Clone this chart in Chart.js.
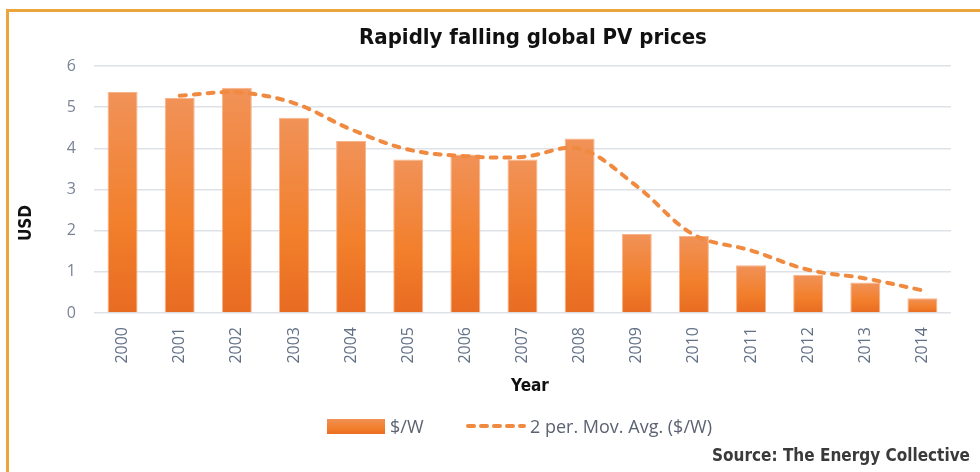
<!DOCTYPE html>
<html>
<head>
<meta charset="utf-8">
<script src="https://cdn.jsdelivr.net/npm/chart.js@4/dist/chart.umd.min.js"></script>
<style>
  html, body { margin: 0; padding: 0; background: #fff; }
  #wrap { position: relative; width: 980px; height: 472px; overflow: hidden; }
  #frame { position: absolute; left: 6px; top: 9px; width: 974px; height: 463px; box-sizing: border-box;
           border-top: 3px solid #EBA53F; border-left: 3px solid #EBA53F; }
  canvas { position: absolute; left: 0; top: 0; }
  .t { position: absolute; white-space: nowrap; }
  #title { left: 533px; top: 24px; transform: translateX(-50%); font: bold 22px "DejaVu Sans Condensed", sans-serif; color: #111; }
  #usd { left: 25px; top: 223px; transform: translate(-50%, -50%) rotate(-90deg); font: bold 17px "DejaVu Sans Condensed", sans-serif; color: #111; }
  #year { left: 530px; top: 385px; transform: translate(-50%, -50%); font: bold 17px "DejaVu Sans Condensed", sans-serif; color: #111; }
  #sw1 { position: absolute; left: 327px; top: 419px; width: 58px; height: 15px; background: linear-gradient(#F08F55, #F27F2B 60%, #E96D23); }
  #lg1 { left: 390px; top: 414px; font: 18px "Open Sans", sans-serif; color: #5B6272; }
  #sw2 { position: absolute; left: 466px; top: 421px; }
  #lg2 { left: 530px; top: 414px; font: 18px "Open Sans", sans-serif; color: #5B6272; }
  #src { right: 10px; top: 445px; font: bold 17px "DejaVu Sans Condensed", sans-serif; color: #3A3A3A; }
</style>
</head>
<body>
<div id="wrap">
  <canvas id="c" width="980" height="472"></canvas>
  <div id="frame"></div>
  <div class="t" id="title">Rapidly falling global PV prices</div>
  <div class="t" id="usd">USD</div>
  <div class="t" id="year">Year</div>
  <div id="sw1"></div>
  <div class="t" id="lg1">$/W</div>
  <svg id="sw2" width="62" height="10"><line x1="2" y1="5" x2="58" y2="5" stroke="#F08A40" stroke-width="4" stroke-linecap="round" stroke-dasharray="6,7"/></svg>
  <div class="t" id="lg2">2 per. Mov. Avg. ($/W)</div>
  <div class="t" id="src">Source: The Energy Collective</div>
</div>
<script>
const years = ['2000','2001','2002','2003','2004','2005','2006','2007','2008','2009','2010','2011','2012','2013','2014'];
const pricePerWatt = [5.37, 5.22, 5.47, 4.74, 4.18, 3.73, 3.85, 3.73, 4.24, 1.92, 1.87, 1.16, 0.93, 0.74, 0.36];
const movingAvg = [null, 5.28, 5.36, 5.10, 4.46, 3.97, 3.81, 3.79, 3.99, 3.08, 1.90, 1.52, 1.05, 0.84, 0.55];
const yTicks = [0, 1, 2, 3, 4, 5, 6];

function barGradient(ctx) {
  const chart = ctx.chart;
  const area = chart.chartArea;
  if (!area || ctx.type !== 'data') return '#F27F2B';
  const y = chart.scales.y;
  const top = y.getPixelForValue(ctx.raw);
  const base = y.getPixelForValue(0);
  if (!isFinite(top) || base - top < 1) return '#F27F2B';
  const g = chart.ctx.createLinearGradient(0, top, 0, base);
  g.addColorStop(0, '#F19258');
  g.addColorStop(0.6, '#F27F2B');
  g.addColorStop(1, '#E86B22');
  return g;
}

new Chart(document.getElementById('c'), {
  data: {
    labels: years,
    datasets: [
      {
        type: 'line',
        label: '2 per. Mov. Avg. ($/W)',
        data: movingAvg,
        borderColor: '#F08A40',
        borderWidth: 4,
        borderDash: [6, 8],
        borderCapStyle: 'round',
        tension: 0.35,
        pointRadius: 0,
        fill: false,
        order: 0
      },
      {
        type: 'bar',
        label: '$/W',
        data: pricePerWatt,
        backgroundColor: barGradient,
        borderColor: '#F6B48C',
        borderWidth: 1,
        categoryPercentage: 1,
        barPercentage: 0.525,
        order: 1
      }
    ]
  },
  options: {
    responsive: false,
    animation: false,
    devicePixelRatio: 1,
    layout: { padding: { left: 0, top: 66, right: 29, bottom: 0 } },
    plugins: { legend: { display: false }, title: { display: false }, tooltip: { enabled: false } },
    scales: {
      x: {
        grid: { display: false, drawTicks: false },
        border: { display: false },
        ticks: { minRotation: 90, maxRotation: 90, padding: 14, color: '#627086', font: { family: 'Open Sans', size: 16 } },
        afterFit: (s) => { s.height = 159; }
      },
      y: {
        min: 0, max: 6,
        afterBuildTicks: (s) => { s.ticks = yTicks.map(v => ({ value: v })); },
        grid: { color: '#DDE2E9', lineWidth: 1.5, drawTicks: false },
        border: { display: false },
        ticks: { padding: 18, color: '#7A8496', font: { family: 'Open Sans', size: 16 } },
        afterFit: (s) => { s.width = 94; }
      }
    }
  }
});
</script>
</body>
</html>
